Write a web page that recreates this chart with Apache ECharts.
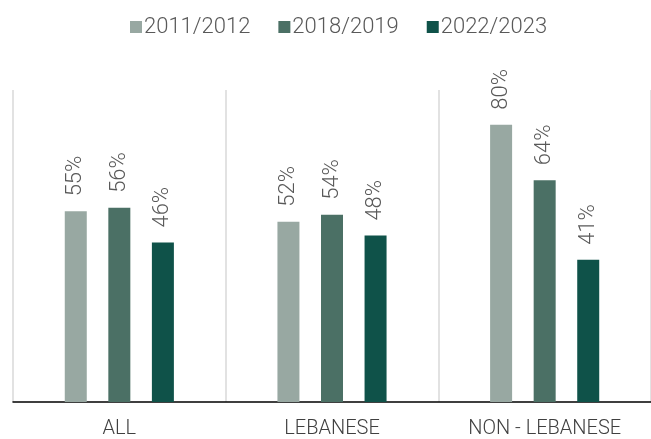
<!DOCTYPE html>
<html>
<head>
<meta charset="utf-8">
<script src="https://cdn.jsdelivr.net/npm/echarts@6/dist/echarts.min.js"></script>
<style>
  html, body { margin: 0; padding: 0; background: #fff; }
  #main { width: 651px; height: 439px; }
</style>
</head>
<body>
<div id="main"></div>
<script>
const categories = ['ALL', 'LEBANESE', 'NON - LEBANESE'];
const seriesNames = ['2011/2012', '2018/2019', '2022/2023'];
const values2011 = [55, 52, 80];
const values2018 = [56, 54, 64];
const values2022 = [46, 48, 41];

const colors = ['#98a8a2', '#4b7065', '#0f5249'];
const fontFam = 'Roboto, "Liberation Sans", sans-serif';

const chart = echarts.init(document.getElementById('main'));

function makeSeries(name, data, color) {
  return {
    name: name,
    type: 'bar',
    data: data,
    barWidth: 22,
    barGap: '98%',
    itemStyle: { color: color },
    label: {
      show: true,
      position: 'top',
      rotate: 90,
      align: 'left',
      verticalAlign: 'middle',
      distance: 15,
      formatter: '{c}%',
      color: '#595959',
      fontSize: 22,
      fontWeight: 300,
      fontFamily: fontFam
    }
  };
}

chart.setOption({
  animation: false,
  legend: {
    top: 11,
    left: 125,
    itemWidth: 12,
    itemHeight: 12,
    itemGap: 28,
    icon: 'rect',
    textStyle: { color: '#595959', fontSize: 22, fontWeight: 300, fontFamily: fontFam, padding: [0, 0, 0, -3] },
    data: seriesNames
  },
  grid: { left: 13, top: 90, width: 642, bottom: 37, containLabel: false },
  xAxis: {
    type: 'category',
    data: categories,
    axisLine: { lineStyle: { color: '#000', width: 1.5 } },
    axisTick: { show: false },
    axisLabel: { color: '#404040', fontSize: 20, fontWeight: 300, fontFamily: fontFam, margin: 17 },
    splitLine: { show: true, lineStyle: { color: '#d9d9d9', width: 1.5 } }
  },
  yAxis: {
    type: 'value',
    min: 0,
    max: 90,
    show: false,
    splitLine: { show: false }
  },
  series: [
    makeSeries(seriesNames[0], values2011, colors[0]),
    makeSeries(seriesNames[1], values2018, colors[1]),
    makeSeries(seriesNames[2], values2022, colors[2])
  ]
});
</script>
</body>
</html>
